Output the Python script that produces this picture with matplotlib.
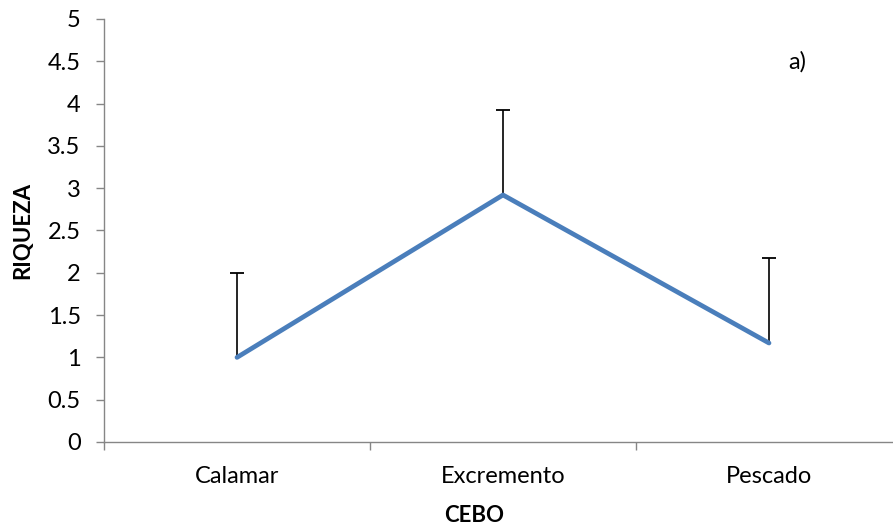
import matplotlib
matplotlib.use("Agg")
import numpy as np
import matplotlib.pyplot as plt
from matplotlib.ticker import FixedLocator, MultipleLocator

categories = ["Calamar", "Excremento", "Pescado"]
riqueza = [1.0, 2.92, 1.17]
error_sup = [1.0, 1.0, 1.0]

plt.rcParams["font.family"] = ["Lato", "DejaVu Sans"]

W, H = 893, 529
fig = plt.figure(figsize=(W / 100, H / 100), dpi=100)
left, right, bottom, top = 104, 902, 442, 19
ax = fig.add_axes([left / W, (H - bottom) / H, (right - left) / W, (bottom - top) / H])

x = np.arange(len(categories))
# upper-only error bars: hide the cap drawn at the point itself
_, caps, _ = ax.errorbar(x, riqueza, yerr=[np.zeros(len(x)), error_sup], fmt="none",
                         ecolor="black", elinewidth=1.2, capsize=4.7, capthick=1.3,
                         zorder=2)
for cap in caps:
    if np.allclose(cap.get_ydata(), riqueza):
        cap.set_visible(False)
ax.plot(x, riqueza, color="#4A7EBB", linewidth=3.4, solid_capstyle="round", zorder=3)

ax.set_xlim(-0.5, len(categories) - 0.5)
ax.set_ylim(0, 5)
ax.yaxis.set_major_locator(MultipleLocator(0.5))
ax.set_yticklabels([f"{v:g}" for v in ax.get_yticks()])

ax.set_xticks(x)
ax.set_xticklabels(categories)
ax.xaxis.set_minor_locator(FixedLocator([i - 0.5 for i in range(len(categories) + 1)]))

grey = "#868686"
for side in ("top", "right"):
    ax.spines[side].set_visible(False)
for side in ("left", "bottom"):
    ax.spines[side].set_color(grey)
    ax.spines[side].set_linewidth(1.0)

ax.tick_params(axis="y", which="major", direction="out", length=5.8, width=1.0,
               color=grey, pad=11, labelsize=17)
ax.tick_params(axis="x", which="major", length=0, pad=17, labelsize=17)
ax.tick_params(axis="x", which="minor", direction="out", length=5.8, width=1.0, color=grey)

ax.set_xlabel("CEBO", fontsize=16, fontweight="bold", va="center")
ax.set_ylabel("RIQUEZA", fontsize=16, fontweight="bold", va="center")
ax.xaxis.set_label_coords((474 - left) / (right - left), (bottom - 516) / (bottom - top))
ax.yaxis.set_label_coords((23 - left) / (right - left), 0.5)

ax.text(2.105, 4.49, "a)", fontsize=17, ha="center", va="center")

fig.savefig("out.png", dpi=100)
